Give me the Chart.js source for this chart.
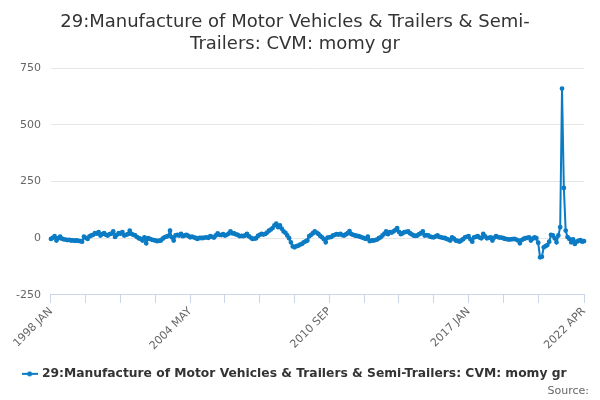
<!DOCTYPE html>
<html>
<head>
<meta charset="utf-8">
<script src="https://cdn.jsdelivr.net/npm/chart.js@4"></script>
<style>
  html, body { margin: 0; padding: 0; background: #fff; }
  #wrap { width: 600px; height: 400px; }
</style>
</head>
<body>
<div id="wrap"><canvas id="chart"></canvas></div>
<script>
// Categories: monthly, 1998 JAN .. 2022 APR
const startYear = 1998;
const monthNames = ['JAN', 'FEB', 'MAR', 'APR', 'MAY', 'JUN', 'JUL', 'AUG', 'SEP', 'OCT', 'NOV', 'DEC'];
const monthCount = 292;

// Series values, in chunks
const values1998to2003 = [
  -3, 2, 9, -10, 0, 7, -2, -5, -6, -8, -7, -10,
  -9, -11, -10, -12, -13, -15, 7, 2, -3, 8, 12, 15,
  22, 20, 27, 12, 18, 22, 15, 12, 18, 20, 30, 6,
  15, 22, 20, 27, 12, 15, 18, 33, 19, 15, 12, 5,
  0, -3, -10, 4, -22, 0, -3, -6, -8, -10, -13, -11,
  -10, -2, 4, 7, 10, 33, 4, -10, 12, 15, 12, 19
];
const values2004to2009 = [
  9, 12, 15, 10, 4, 7, 4, 1, -3, 2, 1, 1,
  3, 4, 2, 9, 6, 3, 12, 21, 15, 14, 18, 12,
  15, 20, 30, 22, 21, 17, 15, 9, 10, 9, 12, 19,
  9, 3, -3, -2, 0, 10, 15, 19, 16, 19, 25, 33,
  38, 45, 57, 64, 49, 57, 42, 30, 24, 12, 0, -18,
  -36, -40, -35, -33, -28, -25, -18, -14, -10, 9, 15, 22
];
const values2010to2015 = [
  30, 25, 19, 10, 4, -4, -18, 3, 4, 6, 12, 15,
  18, 16, 19, 14, 12, 17, 22, 31, 18, 15, 12, 10,
  9, 6, 3, 0, -3, 7, -13, -10, -10, -8, -6, 0,
  4, 12, 20, 30, 18, 27, 25, 30, 36, 45, 28, 18,
  22, 27, 28, 30, 22, 17, 12, 10, 12, 18, 22, 30,
  12, 14, 12, 7, 5, 4, 8, 12, 6, 4, 2, 1
];
const values2016to2022 = [
  -3, -6, -10, 4, -2, -10, -12, -15, -10, -4, 4, 6,
  9, -5, -15, 4, 6, 9, 3, 0, 19, 8, 0, 2,
  4, -10, 3, 9, 5, 3, 3, 0, -3, -4, -6, -5,
  -4, -3, -6, -10, -22, -8, -3, 0, 2, 4, -10, -2,
  4, 0, -20, -84, -82, -40, -35, -30, -15, 15, 12, 0,
  -18, 12, 49, 660, 222, 34, 5, -3, -18, -5, -25, -15,
  -12, -8, -15, -13
];

// Y axis ticks
const yTicks = [-250, 0, 250, 500, 750];

const seriesName = '29:Manufacture of Motor Vehicles & Trailers & Semi-Trailers: CVM: momy gr';
const titleLines = ['29:Manufacture of Motor Vehicles & Trailers & Semi-', 'Trailers: CVM: momy gr'];
const sourceText = 'Source:';

const labels = [];
for (let i = 0; i < monthCount; i++) {
  labels.push((startYear + Math.floor(i / 12)) + ' ' + monthNames[i % 12]);
}
const values = values1998to2003.concat(values2004to2009, values2010to2015, values2016to2022);

const lastIndex = labels.length - 1;
const labelIndexes = [0, 76, 152, 228, lastIndex];

const font = '"DejaVu Sans", sans-serif';
const lineColor = '#0b7bc4';

// legend marker: short line with a dot in the middle
const marker = document.createElement('canvas');
marker.width = 16;
marker.height = 8;
const mctx = marker.getContext('2d');
mctx.strokeStyle = lineColor;
mctx.fillStyle = lineColor;
mctx.lineWidth = 2;
mctx.beginPath();
mctx.moveTo(0, 4);
mctx.lineTo(16, 4);
mctx.stroke();
mctx.beginPath();
mctx.arc(8, 4, 2.5, 0, Math.PI * 2);
mctx.fill();

// "Source:" credit at the bottom right
const sourcePlugin = {
  id: 'source',
  afterDraw(chart) {
    const ctx = chart.ctx;
    ctx.save();
    ctx.font = '11px ' + font;
    ctx.fillStyle = '#666666';
    ctx.textAlign = 'right';
    ctx.textBaseline = 'middle';
    ctx.fillText(sourceText, chart.width - 11, chart.height - 9);
    ctx.restore();
  }
};

new Chart(document.getElementById('chart').getContext('2d'), {
  type: 'line',
  data: {
    labels: labels,
    datasets: [{
      label: seriesName,
      data: values,
      borderColor: lineColor,
      backgroundColor: lineColor,
      borderWidth: 2,
      pointRadius: 1.4,
      pointHoverRadius: 3,
      pointStyle: 'circle',
      tension: 0
    }]
  },
  plugins: [sourcePlugin],
  options: {
    responsive: true,
    maintainAspectRatio: false,
    animation: false,
    layout: { padding: { left: 6, right: 16, top: 4, bottom: 10 } },
    plugins: {
      title: {
        display: true,
        text: titleLines,
        color: '#333333',
        font: { family: font, size: 18, weight: 'normal', lineHeight: 1.2 },
        padding: { top: 8, bottom: 13 }
      },
      legend: {
        position: 'bottom',
        labels: {
          color: '#333333',
          font: { family: font, size: 12.3, weight: 'bold' },
          usePointStyle: true,
          generateLabels: (chart) => {
            const items = Chart.defaults.plugins.legend.labels.generateLabels(chart);
            items.forEach(it => { it.pointStyle = marker; });
            return items;
          },
          padding: 13
        }
      },
      tooltip: { enabled: true }
    },
    scales: {
      x: {
        type: 'category',
        offset: false,
        afterBuildTicks: (scale) => {
          scale.ticks = scale.ticks.filter(t => (t.value % 19 === 0 && t.value <= 266) || t.value === lastIndex);
        },
        ticks: {
          autoSkip: false,
          minRotation: 45,
          maxRotation: 45,
          color: '#666666',
          font: { family: font, size: 11 },
          padding: 2,
          callback: function (value) {
            return labelIndexes.includes(value) ? this.getLabelForValue(value) : '';
          }
        },
        grid: {
          display: true,
          drawOnChartArea: false,
          drawTicks: true,
          tickLength: 8,
          color: '#ccd6eb'
        },
        border: { color: '#ccd6eb' }
      },
      y: {
        min: -250,
        max: 750,
        afterBuildTicks: (scale) => {
          scale.ticks = yTicks.map(v => ({ value: v }));
        },
        ticks: {
          color: '#666666',
          font: { family: font, size: 11 },
          padding: 10
        },
        grid: { color: '#e6e6e6', drawTicks: false },
        border: { display: false }
      }
    }
  }
});
</script>
</body>
</html>
